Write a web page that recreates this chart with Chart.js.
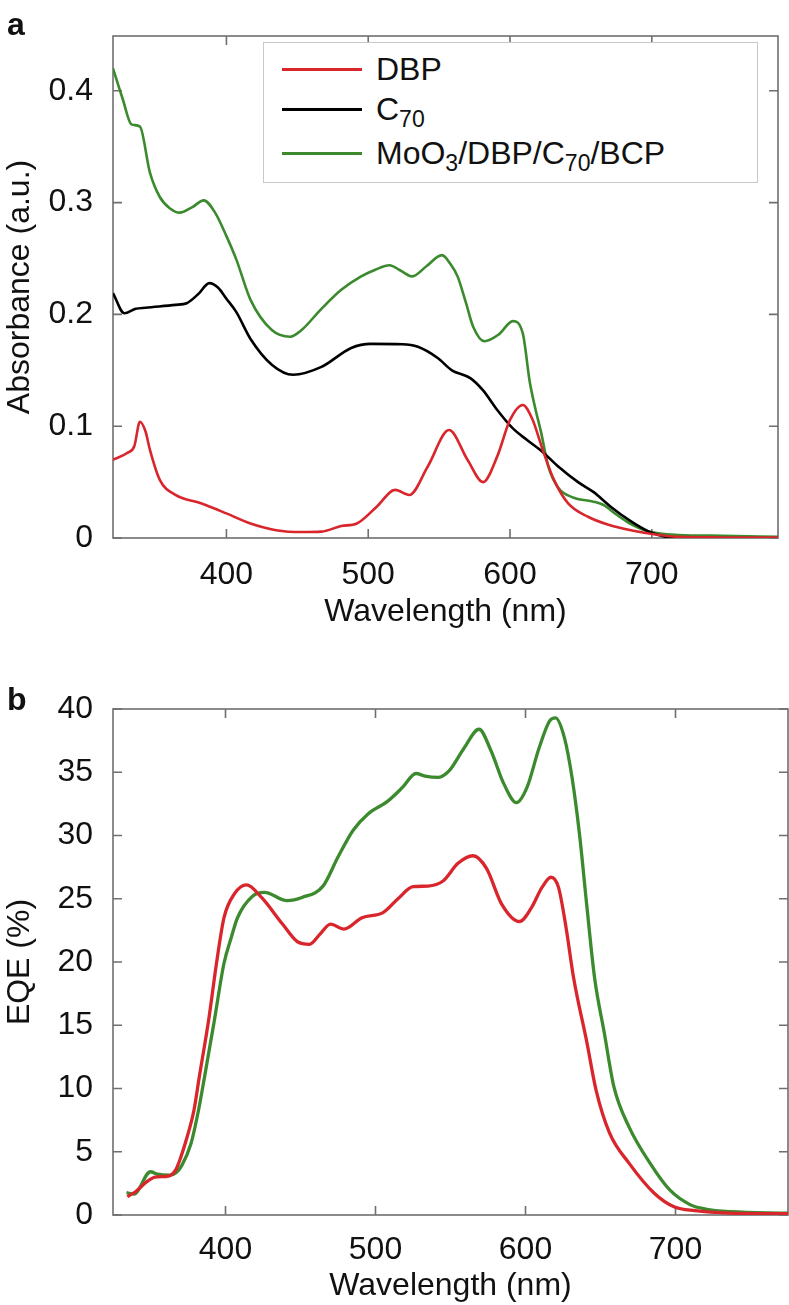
<!DOCTYPE html>
<html>
<head>
<meta charset="utf-8">
<script src="https://cdn.jsdelivr.net/npm/chart.js@4.4.1/dist/chart.umd.min.js"></script>
<style>
  body { margin: 0; background: #fff; font-family: "Liberation Sans", Arial, sans-serif; color: #111; }
  #wrap { position: relative; width: 789px; height: 1305px; overflow: hidden; }
  canvas { position: absolute; left: 0; }
  #chartA { top: 0; }
  #chartB { top: 650px; }
  .panel { position: absolute; left: 7px; font-weight: bold; font-size: 32px; line-height: 1; }
  #legend { position: absolute; left: 263px; top: 42px; width: 493px; height: 139px; border: 1px solid #c8c8c8; background: #fff; font-size: 32px; }
  .row { position: absolute; left: 18px; height: 40px; display: flex; align-items: center; white-space: nowrap; }
  .swatch { width: 80px; height: 3px; margin-right: 14px; }
  .txt { display: inline-block; line-height: 40px; }
  sub { font-size: 0.72em; vertical-align: -0.3em; line-height: 0; }
</style>
</head>
<body>
<div id="wrap">
  <canvas id="chartA" width="789" height="650"></canvas>
  <canvas id="chartB" width="789" height="655"></canvas>
  <div class="panel" style="top:8px">a</div>
  <div class="panel" style="top:683px">b</div>
  <div id="legend">
    <div class="row" style="top:6px"><span class="swatch" style="background:#d8262c"></span><span class="txt">DBP</span></div>
    <div class="row" style="top:46px"><span class="swatch" style="background:#000"></span><span class="txt">C<sub>70</sub></span></div>
    <div class="row" style="top:90px"><span class="swatch" style="background:#3b8a2e"></span><span class="txt">MoO<sub>3</sub>/DBP/C<sub>70</sub>/BCP</span></div>
  </div>
</div>
<script>
// tick labels
const wlTicks = [400, 500, 600, 700];
const absTicks = [0, 0.1, 0.2, 0.3, 0.4];
const eqeTicks = [0, 5, 10, 15, 20, 25, 30, 35, 40];

// (a) absorbance
const dbpAbsNm = [320, 330, 335, 339, 343, 346, 353, 364, 382, 400, 417, 435, 453, 467, 481, 492, 506, 519, 529, 542, 557, 570, 581, 591, 600, 609, 616, 623, 631, 641, 655, 670, 687, 705, 719, 750, 789];
const dbpAbs = [0.070, 0.076, 0.082, 0.104, 0.095, 0.079, 0.052, 0.0385, 0.031, 0.022, 0.013, 0.007, 0.0053, 0.0057, 0.0107, 0.013, 0.028, 0.043, 0.0385, 0.064, 0.0966, 0.070, 0.050, 0.073, 0.1056, 0.119, 0.1056, 0.079, 0.052, 0.031, 0.019, 0.0116, 0.0065, 0.0027, 0.001, 0.0005, 0.0003];

const c70AbsNm = [320, 328, 336, 343, 364, 372, 380, 388, 394, 400, 407, 417, 432, 447, 467, 488, 502, 524, 535, 549, 559, 572, 581, 591, 602, 612, 623, 634, 648, 659, 671, 684, 698, 710, 720];
const c70Abs = [0.219, 0.201, 0.205, 0.206, 0.2085, 0.210, 0.218, 0.228, 0.224, 0.214, 0.202, 0.178, 0.155, 0.146, 0.153, 0.170, 0.1736, 0.1733, 0.171, 0.161, 0.150, 0.143, 0.132, 0.1145, 0.098, 0.0877, 0.077, 0.064, 0.050, 0.041, 0.028, 0.016, 0.0057, 0.001, 0];

const devAbsNm = [320, 327, 333, 339, 346, 353, 360, 367, 376, 384, 392, 400, 407, 417, 432, 445, 453, 467, 481, 495, 505, 515, 523, 531, 541, 552, 558, 563, 569, 574, 582, 592, 602, 609, 614, 618, 622, 627, 634, 645, 659, 666, 675, 684, 698, 719, 750, 789];
const devAbs = [0.420, 0.392, 0.370, 0.368, 0.327, 0.305, 0.295, 0.291, 0.296, 0.302, 0.291, 0.270, 0.249, 0.213, 0.186, 0.180, 0.186, 0.205, 0.222, 0.234, 0.240, 0.244, 0.239, 0.234, 0.243, 0.253, 0.245, 0.234, 0.210, 0.189, 0.176, 0.182, 0.194, 0.183, 0.139, 0.115, 0.094, 0.064, 0.045, 0.036, 0.0325, 0.0295, 0.021, 0.0134, 0.0057, 0.0027, 0.002, 0.001];

// (b) EQE
const dbpEqeNm = [334.5, 340, 346.7, 353, 362, 366.7, 370, 374.5, 379, 382.5, 389, 394, 399, 406, 414, 424, 438, 448, 456, 463, 470, 479, 491, 505, 515, 525, 535, 545, 555, 565, 574, 584, 596, 604, 611, 617, 622, 627, 632, 641, 647, 656, 669, 686, 699, 713, 736, 775];
const dbpEqe = [1.45, 1.84, 2.55, 3.0, 3.08, 3.55, 4.5, 6.2, 8.3, 10.9, 15.6, 19.9, 23.5, 25.4, 26.1, 25.1, 23.0, 21.6, 21.4, 22.2, 23.0, 22.6, 23.5, 23.9, 25.0, 25.95, 26.0, 26.4, 27.8, 28.4, 27.4, 24.6, 23.2, 24.3, 25.9, 26.7, 25.9, 22.75, 18.8, 13.6, 9.9, 6.5, 4.1, 1.7, 0.65, 0.34, 0.15, 0.1];

const devEqeNm = [334, 339, 350, 354.5, 363, 367, 371, 377, 382, 386, 392.6, 399, 404, 408, 418, 426, 441, 451, 465, 475, 485, 495, 508, 518, 527, 533, 542, 549, 559, 569, 577, 585.5, 594, 601, 609, 616, 620, 626, 631, 636, 641, 646, 652.6, 659, 669, 683, 696, 710, 720, 737, 775];
const devEqe = [1.76, 1.66, 3.42, 3.23, 3.16, 3.34, 3.94, 5.65, 8.28, 10.9, 15.4, 19.9, 22.0, 23.5, 25.2, 25.5, 24.85, 25.1, 26.0, 28.3, 30.4, 31.7, 32.7, 33.8, 34.9, 34.7, 34.6, 35.1, 36.9, 38.4, 36.7, 34.1, 32.6, 33.8, 36.9, 39.05, 39.3, 37.7, 34.6, 30.1, 24.3, 18.8, 14.35, 10.1, 6.97, 4.1, 2.0, 0.8, 0.47, 0.26, 0.15];

const RED = "#d8262c";
const GREEN = "#3b8a2e";

Chart.defaults.font.family = '"Liberation Sans", Arial, Helvetica, sans-serif';
Chart.defaults.color = "#111";

function pts(xs, ys) {
    return xs.map((x, i) => ({ x: x, y: ys[i] }));
}

function serie(xs, ys, cor, larg) {
    return {
        data: pts(xs, ys),
        borderColor: cor,
        borderWidth: larg,
        pointRadius: 0,
        fill: false,
        cubicInterpolationMode: "monotone"
    };
}

// box round the plot with inward ticks on all four sides
const moldura = {
    id: "moldura",
    beforeDatasetsDraw(chart) {
        const { ctx, chartArea: a, scales } = chart;
        const len = 9;
        ctx.save();
        ctx.strokeStyle = "#6f6f6f";
        ctx.lineWidth = 1.6;
        ctx.strokeRect(a.left, a.top, a.right - a.left, a.bottom - a.top);
        ctx.beginPath();
        scales.x.ticks.forEach(t => {
            const px = scales.x.getPixelForValue(t.value);
            ctx.moveTo(px, a.bottom); ctx.lineTo(px, a.bottom - len);
            ctx.moveTo(px, a.top); ctx.lineTo(px, a.top + len);
        });
        scales.y.ticks.forEach(t => {
            const py = scales.y.getPixelForValue(t.value);
            ctx.moveTo(a.left, py); ctx.lineTo(a.left + len, py);
            ctx.moveTo(a.right, py); ctx.lineTo(a.right - len, py);
        });
        ctx.stroke();
        ctx.restore();
    }
};

function eixos(cfg) {
    return {
        x: {
            type: "linear",
            min: cfg.xMin,
            max: cfg.xMax,
            afterBuildTicks: s => { s.ticks = wlTicks.map(v => ({ value: v })); },
            afterFit: s => { s.height = cfg.xHeight; },
            grid: { display: false },
            border: { display: false },
            ticks: { font: { size: 32 }, padding: cfg.xPad, maxRotation: 0, autoSkip: false, callback: v => String(v) },
            title: { display: true, text: "Wavelength (nm)", font: { size: 32 }, padding: { top: 0, bottom: cfg.xTitlePad } }
        },
        y: {
            type: "linear",
            min: cfg.yMin,
            max: cfg.yMax,
            afterBuildTicks: s => { s.ticks = cfg.yTicks.map(v => ({ value: v })); },
            afterFit: s => { s.width = 113; },
            grid: { display: false },
            border: { display: false },
            ticks: { font: { size: 32 }, padding: 12, autoSkip: false, callback: v => String(v) },
            title: { display: true, text: cfg.yTitle, font: { size: 32 }, padding: { top: 1, bottom: 0 } }
        }
    };
}

function montarAbsorbancia() {
    const ctx = document.getElementById("chartA").getContext("2d");
    new Chart(ctx, {
        type: "line",
        data: {
            datasets: [
                serie(dbpAbsNm, dbpAbs, RED, 2.6),
                serie(c70AbsNm, c70Abs, "#000", 2.6),
                serie(devAbsNm, devAbs, GREEN, 2.6)
            ]
        },
        options: {
            responsive: false,
            animation: false,
            events: [],
            layout: { padding: { top: 36, right: 11, left: 0, bottom: 0 } },
            plugins: { legend: { display: false }, tooltip: { enabled: false } },
            scales: eixos({
                xMin: 320, xMax: 789, xHeight: 112, xPad: 10, xTitlePad: 19,
                yMin: 0, yMax: 0.449, yTicks: absTicks, yTitle: "Absorbance (a.u.)"
            })
        },
        plugins: [moldura]
    });
}

function montarEQE() {
    const ctx = document.getElementById("chartB").getContext("2d");
    new Chart(ctx, {
        type: "line",
        data: {
            datasets: [
                serie(dbpEqeNm, dbpEqe, RED, 3.3),
                serie(devEqeNm, devEqe, GREEN, 3.3)
            ]
        },
        options: {
            responsive: false,
            animation: false,
            events: [],
            layout: { padding: { top: 59, right: 1, left: 0, bottom: 0 } },
            plugins: { legend: { display: false }, tooltip: { enabled: false } },
            scales: eixos({
                xMin: 325, xMax: 775, xHeight: 90, xPad: 8, xTitlePad: 0,
                yMin: 0, yMax: 40, yTicks: eqeTicks, yTitle: "EQE (%)"
            })
        },
        plugins: [moldura]
    });
}

montarAbsorbancia();
montarEQE();
</script>
</body>
</html>
